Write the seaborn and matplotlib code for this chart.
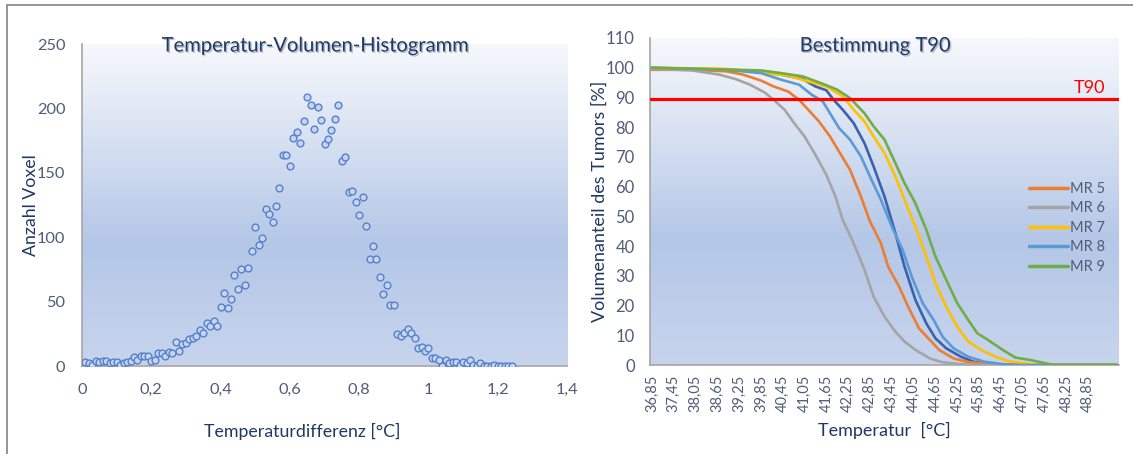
import numpy as np
import pandas as pd
import matplotlib
matplotlib.use("Agg")
import matplotlib.pyplot as plt
import seaborn as sns
import matplotlib.patheffects as pe
from matplotlib.lines import Line2D
from matplotlib.ticker import FixedLocator, MultipleLocator

# ---------------- data: left chart (histogram as scatter) ----------------
hist_dT = np.round(np.arange(1, 125) * 0.01, 2)   # bin positions 0.01 ... 1.24 °C
hist_count = [3, 2, 1, 4, 3, 4, 4, 2, 3, 3,
              1, 2, 3, 4, 7, 5, 8, 8, 8, 4,
              5, 10, 10, 8, 11, 10, 19, 12, 17, 18,
              21, 22, 23, 28, 26, 33, 31, 35, 31, 46,
              57, 45, 52, 71, 60, 75, 63, 76, 89, 108,
              94, 99, 122, 118, 112, 124, 138, 164, 164, 155,
              177, 182, 173, 190, 209, 203, 184, 201, 191, 172,
              176, 183, 192, 203, 159, 162, 135, 136, 127, 117,
              131, 109, 83, 93, 83, 69, 56, 63, 47, 47,
              25, 23, 26, 29, 26, 22, 14, 15, 12, 14,
              6, 6, 5, 0, 5, 2, 3, 3, 1, 3,
              2, 5, 1, 0, 2, 0, 0, 0, 1, 0,
              0, 0, 0, 0]
left_xticks = [0, 0.2, 0.4, 0.6, 0.8, 1.0, 1.2, 1.4]
left_xticklabels = ["0", "0,2", "0,4", "0,6", "0,8", "1", "1,2", "1,4"]
left_yticks = [0, 50, 100, 150, 200, 250]

# ---------------- data: right chart (T90 curves) ----------------
t_mr5 = [36.85, 37.9, 38.9, 39.35, 39.85, 40.2, 40.6, 40.9, 41.15, 41.45, 41.75, 42.0, 42.3,
         42.6, 42.85, 43.15, 43.35, 43.65, 43.9, 44.2, 44.5, 44.75, 45.15, 45.55, 46.0, 46.5, 49.65]
v_mr5 = [99.3, 99.3, 98.8, 97.7, 95.7, 93.7, 92.0, 89.2, 85.9, 81.9, 76.9, 71.8, 65.7,
         56.7, 48.3, 41.0, 33.1, 26.4, 19.6, 12.3, 8.4, 5.1, 2.2, 1.0, 0.5, 0, 0]

t_mr6 = [36.85, 37.95, 38.7, 39.15, 39.55, 39.95, 40.2, 40.5, 40.8, 41.05, 41.35, 41.65, 41.9,
         42.1, 42.4, 42.7, 42.95, 43.25, 43.55, 43.8, 44.1, 44.5, 44.85, 45.35, 45.8, 49.65]
v_mr6 = [99.6, 99.1, 97.7, 96.2, 94.3, 91.7, 89.2, 85.9, 80.8, 76.9, 70.7, 64.0, 56.7,
         48.8, 41.0, 32.0, 23.0, 16.3, 11.2, 7.9, 5.1, 2.2, 0.9, 0.3, 0, 0]

t_mr7 = [36.85, 38.9, 39.85, 40.6, 41.15, 41.65, 42.1, 42.4, 42.7, 42.95, 43.25, 43.55, 43.8,
         44.1, 44.4, 44.65, 44.95, 45.25, 45.55, 45.9, 46.3, 46.65, 47.05, 47.5, 49.65]
v_mr7 = [100, 99.6, 98.4, 97.3, 95.4, 93.7, 90.4, 85.9, 81.9, 76.9, 71.3, 63.4, 55.6,
         46.6, 36.5, 27.5, 19.6, 12.9, 7.9, 5.1, 2.8, 1.3, 0.6, 0, 0]

t_mr8 = [36.85, 38.9, 39.85, 40.4, 40.9, 41.25, 41.55, 41.75, 42.0, 42.3, 42.6, 42.85, 43.15,
         43.45, 43.75, 44.0, 44.3, 44.6, 44.85, 45.15, 45.55, 46.0, 46.5, 47.0, 49.65]
v_mr8 = [100, 99.3, 98.2, 96.0, 94.3, 90.9, 88.7, 84.7, 79.7, 75.8, 70.2, 63.4, 55.6,
         46.6, 38.7, 29.7, 20.8, 15.2, 9.5, 5.6, 2.8, 1.1, 0.3, 0, 0]

t_mr9 = [36.85, 39.85, 40.4, 41.0, 41.55, 41.95, 42.3, 42.7, 42.95, 43.25, 43.55, 43.8, 44.1,
         44.4, 44.65, 44.95, 45.25, 45.55, 45.8, 46.1, 46.5, 46.85, 47.25, 47.6, 47.9, 49.65]
v_mr9 = [100, 99.1, 98.2, 97.1, 94.6, 92.6, 89.8, 84.7, 80.3, 75.8, 67.9, 61.2, 54.4,
         45.5, 36.5, 28.6, 20.8, 15.2, 10.7, 8.4, 5.1, 2.5, 1.7, 0.8, 0, 0]

# unlabelled dark-blue curve (not in legend)
t_extra = [36.85, 38.0, 39.0, 39.85, 40.4, 41.0, 41.35, 41.65, 41.85, 42.1, 42.4, 42.7, 42.95,
           43.25, 43.55, 43.8, 44.1, 44.4, 44.65, 44.95, 45.35, 45.7, 46.2, 46.7, 49.65]
v_extra = [99.6, 99.5, 99.3, 98.8, 97.7, 96.2, 93.7, 92.4, 89.2, 85.9, 81.4, 74.6, 66.8,
           56.7, 44.3, 33.1, 21.9, 14.0, 9.0, 5.6, 2.8, 1.1, 0.3, 0, 0]

series_names = ["MR 5", "MR 6", "MR 7", "MR 8", "MR 9"]
t90_level = 89.5
right_xticks = [36.85, 37.45, 38.05, 38.65, 39.25, 39.85, 40.45, 41.05, 41.65, 42.25, 42.85,
                43.45, 44.05, 44.65, 45.25, 45.85, 46.45, 47.05, 47.65, 48.25, 48.85]
right_xticklabels = [f"{v:.2f}".replace(".", ",") for v in right_xticks]
right_yticks = list(range(0, 111, 10))

# ---------------- styling ----------------
sns.set_style("white")
plt.rcParams["font.family"] = ["Lato", "DejaVu Sans"]

TICK_C = "#4f5d78"
LABEL_C = "#1f3864"
SPINE_C = "#a6a6a6"
colors = {"MR 5": "#ed7d31", "MR 6": "#a5a5a5", "MR 7": "#ffc000",
          "MR 8": "#5b9bd5", "MR 9": "#70ad47"}
EXTRA_C = "#3a62b0"

W, H = 1133, 454
fig = plt.figure(figsize=(W / 100, H / 100), dpi=100)
fig.patch.set_facecolor("white")


def px_axes(l, t, r, b):
    return fig.add_axes([l / W, 1 - b / H, (r - l) / W, (b - t) / H])


# gradient background
stops_pos = [0.0, 0.12, 0.62, 1.0]
stops_col = np.array([[246, 248, 252], [234, 239, 248], [180, 199, 231], [199, 212, 237]]) / 255.0
g = np.linspace(0, 1, 256)
grad = np.stack([np.interp(g, stops_pos, stops_col[:, k]) for k in range(3)], axis=1)
grad_img = grad[:, None, :]


def add_gradient(ax):
    ax.imshow(grad_img, extent=[0, 1, 0, 1], transform=ax.transAxes, aspect="auto",
              zorder=-10, origin="upper")


def style_axes(ax):
    for s in ["top", "right"]:
        ax.spines[s].set_visible(False)
    for s in ["left", "bottom"]:
        ax.spines[s].set_color(SPINE_C)
        ax.spines[s].set_linewidth(1.2)
    ax.tick_params(axis="both", which="both", direction="out", color=SPINE_C,
                   labelcolor=TICK_C, width=1)


shadow = [pe.withSimplePatchShadow(offset=(1, -1), shadow_rgbFace="#8a96ad", alpha=0.6)]

# ---------------- left chart ----------------
ax1 = px_axes(82, 44, 567, 366)
add_gradient(ax1)
df_hist = pd.DataFrame({"dT": hist_dT, "count": hist_count})
sns.scatterplot(data=df_hist, x="dT", y="count", ax=ax1, marker="o", s=24,
                facecolor="#c6d5ee", edgecolor="#5580cc", linewidth=1.0, zorder=3)
ax1.set_xlim(0, 1.4)
ax1.set_ylim(0, 250)
ax1.set_xticks(left_xticks)
ax1.set_xticklabels(left_xticklabels)
ax1.set_yticks(left_yticks)
style_axes(ax1)
ax1.tick_params(axis="both", length=5, labelsize=11.8, pad=7)
ax1.set_xlabel("Temperaturdifferenz [°C]", color=LABEL_C, fontsize=12.8)
ax1.set_ylabel("Anzahl Voxel", color=LABEL_C, fontsize=12.8)
ax1.xaxis.set_label_coords((302 - 82) / 485, -(423 - 366) / 322)
ax1.yaxis.set_label_coords(-(82 - 39) / 485, 0.5)
ax1.text((315 - 82) / 485, (366 - 46) / 322, "Temperatur-Volumen-Histogramm",
         transform=ax1.transAxes, ha="center", va="center", fontsize=14.5,
         color=LABEL_C, zorder=5, path_effects=shadow)

# ---------------- right chart ----------------
ax2 = px_axes(650, 38, 1119, 365)
add_gradient(ax2)

df_extra = pd.DataFrame({"T": t_extra, "V": v_extra})
sns.lineplot(data=df_extra, x="T", y="V", ax=ax2, color=EXTRA_C, linewidth=1.9,
             sort=False, estimator=None, legend=False, zorder=3)

frames = []
for name, tt, vv in zip(series_names, [t_mr5, t_mr6, t_mr7, t_mr8, t_mr9],
                        [v_mr5, v_mr6, v_mr7, v_mr8, v_mr9]):
    frames.append(pd.DataFrame({"T": tt, "V": vv, "Serie": name}))
df_curves = pd.concat(frames, ignore_index=True)
sns.lineplot(data=df_curves, x="T", y="V", hue="Serie", palette=colors, ax=ax2,
             linewidth=1.9, sort=False, estimator=None, legend=False, zorder=4)

ax2.axhline(t90_level, color="#ff0000", linewidth=2.3, zorder=6)
ax2.text((1090 - 650) / 469, (365 - 88) / 327, "T90", transform=ax2.transAxes,
         ha="center", va="center", color="#ff0000", fontsize=13, zorder=7)

ax2.set_xlim(36.80, 49.70)
ax2.set_ylim(0, 110)
ax2.set_yticks(right_yticks)
ax2.xaxis.set_major_locator(FixedLocator(right_xticks))
ax2.set_xticklabels(right_xticklabels, rotation=90)
ax2.xaxis.set_minor_locator(MultipleLocator(0.1))
style_axes(ax2)
ax2.tick_params(axis="y", length=5, labelsize=12, pad=6)
ax2.tick_params(axis="x", which="both", length=4, labelsize=10.5, pad=3)
ax2.set_xlabel("Temperatur  [°C]", color=LABEL_C, fontsize=13)
ax2.set_ylabel("Volumenanteil des Tumors [%]", color=LABEL_C, fontsize=13)
ax2.xaxis.set_label_coords(0.5, -(422 - 365) / 327)
ax2.yaxis.set_label_coords(-(650 - 608) / 469, 0.5)
ax2.text((875 - 650) / 469, (365 - 46) / 327, "Bestimmung T90",
         transform=ax2.transAxes, ha="center", va="center", fontsize=14.5,
         color=LABEL_C, zorder=5, path_effects=shadow)

handles = [Line2D([0], [0], color=colors[n], linewidth=2.5) for n in series_names]
leg = ax2.legend(handles, series_names, loc="upper left",
                 bbox_to_anchor=((1023 - 650) / 469, (365 - 176) / 327),
                 frameon=False, fontsize=10.5, handlelength=2.7, labelspacing=0.38,
                 handletextpad=0.1, borderaxespad=0)
for t in leg.get_texts():
    t.set_color(TICK_C)

# outer frame of the picture
fig.add_artist(Line2D([7 / W, 7 / W], [0, 1 - 5 / H], transform=fig.transFigure,
                      color="#8c8c8c", linewidth=1.3))
fig.add_artist(Line2D([7 / W, 1], [1 - 5 / H, 1 - 5 / H], transform=fig.transFigure,
                      color="#8c8c8c", linewidth=1.3))

fig.savefig("out.png", dpi=100, facecolor="white")
